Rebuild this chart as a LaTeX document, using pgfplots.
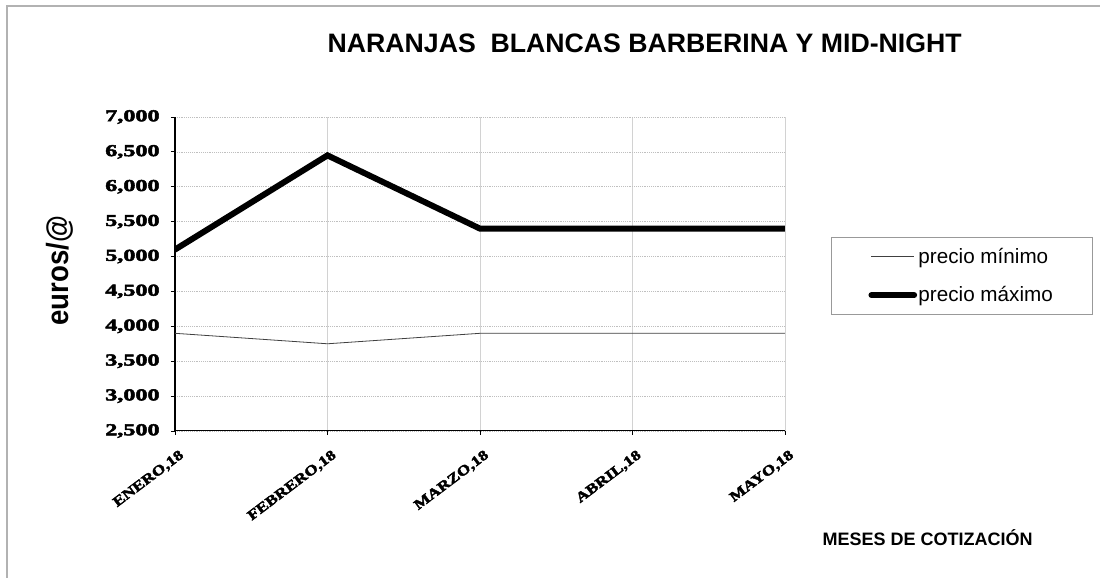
\documentclass[border=0pt]{standalone}
\usepackage{fontspec}
\setmainfont{Liberation Sans}
\newfontfamily\tickfont[FakeStretch=1.45,FakeBold=3]{Liberation Serif Bold}
\newfontfamily\xtickfont[FakeStretch=1.25,FakeBold=3]{Liberation Serif Bold}
\newfontfamily\ylabfont[FakeStretch=0.9]{Liberation Sans Bold}
\usepackage{pgfplots}
\pgfplotsset{compat=1.18}
\begin{document}
\begin{tikzpicture}
\useasboundingbox (0,0) rectangle (825pt,433.5pt);
\fill[white] (0,0) rectangle (825pt,433.5pt);
\draw[gray!60, line width=0.9pt] (5.25pt,0) -- (5.25pt,429pt) -- (825pt,429pt);
\begin{axis}[
 at={(131.25pt,110.25pt)}, anchor=south west,
 scale only axis, width=457.5pt, height=235.5pt,
 xmin=0, xmax=4, ymin=2500, ymax=7000,
 xtick={0,1,2,3,4},
 xticklabels={{ENERO,18},{FEBRERO,18},{MARZO,18},{ABRIL,18},{MAYO,18}},
 ytick={2500,3000,...,7000},
 scaled y ticks=false,
 /pgf/number format/assume math mode=true,
 yticklabel style={font=\tickfont\fontsize{12.5}{12.5}\selectfont, xshift=-5pt},
 xticklabel style={font=\xtickfont\fontsize{10.5}{10.5}\selectfont, rotate=37, anchor=north east, inner sep=2pt, yshift=-8pt, xshift=-2pt},
 axis x line*=bottom, axis y line*=left,
 axis line style={black, line width=0.75pt, -},
 tick align=outside, major tick length=3pt, tick style={black, line width=0.6pt},
 ymajorgrids, xmajorgrids,
 y grid style={gray!50, densely dotted, line width=0.5pt},
 x grid style={gray!35, line width=0.6pt},
 title={NARANJAS\ \ BLANCAS BARBERINA Y MID-NIGHT},
 title style={at={(axis description cs:0.770,1.210)}, anchor=center, font=\bfseries\fontsize{20}{20}\selectfont},
 xlabel={MESES DE COTIZACIÓN},
 xlabel style={at={(axis description cs:1.234,-0.338)}, anchor=center, font=\bfseries\fontsize{13.5}{13.5}\selectfont},
 ylabel={euros/@},
 ylabel style={at={(axis description cs:-0.1885,0.51)}, anchor=center, font=\ylabfont\fontsize{23}{23}\selectfont},
 legend style={at={(axis description cs:1.075,0.618)}, anchor=north west, draw=gray!80, line width=0.6pt, font=\fontsize{15.5}{18}\selectfont, inner xsep=28pt, inner ysep=6pt, row sep=12pt, nodes={inner xsep=1pt}},
 legend cell align=left,
 legend image code/.code={\draw[#1] (0pt,0pt) -- (32pt,0pt);},
]
\addplot[black!75, line width=0.6pt] coordinates {(0,3900) (1,3750) (2,3900) (3,3900) (4,3900)};
\addlegendentry{precio mínimo\hspace*{1pt}}
\addplot[black, line width=4.5pt, line cap=round] coordinates {(0,5100) (1,6450) (2,5400) (3,5400) (4,5400)};
\addlegendentry{precio máximo\hspace*{1pt}}
\end{axis}
\end{tikzpicture}
\end{document}
